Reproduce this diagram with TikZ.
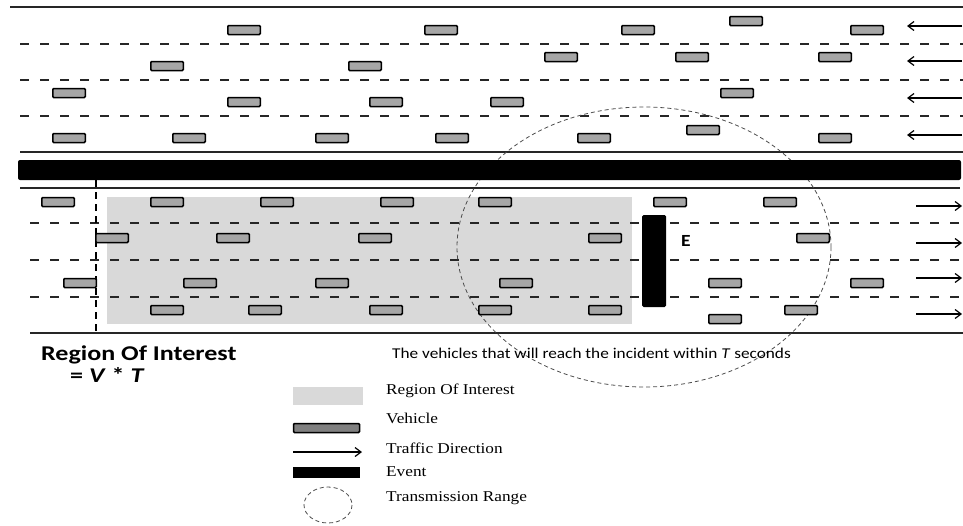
\documentclass[tikz,border=0pt]{standalone}
\usepackage{fontspec}
\setmainfont{Liberation Serif}[FakeStretch=1.15]
\newfontfamily\roifont{Carlito}[FakeStretch=1.15]
\newfontfamily\roibold{Carlito}[FakeStretch=1.24]
\usetikzlibrary{arrows.meta}

\tikzset{
  road/.style={line width=1.4pt, black!85},
  lane/.style={line width=1.4pt, black!85, dash pattern=on 9pt off 11pt},
  vehicle/.style={draw=black, line width=1.5pt, fill=black!35, rounded corners=1pt,
    minimum width=32.5pt, minimum height=9pt, inner sep=0pt},
  flow/.style={line width=1.2pt, -{Straight Barb[length=6pt,width=9pt]}},
  txrange/.style={draw=black!70, line width=0.8pt, dash pattern=on 4pt off 3pt},
  legendtext/.style={anchor=west, inner sep=0pt, font=\fontsize{15}{17}\selectfont}
}

\begin{document}
\begin{tikzpicture}[x=1pt, y=-1pt]

\useasboundingbox (0,0) rectangle (963,525);

% ------------------- Region of interest ------------------- %
\fill[black!15] (107,197) rectangle (632,324);

% ------------------- Upper road (to the left) ------------------- %
\draw[road] (10,7) -- (963,7);
\foreach \y in {44,80,116} {
  \draw[lane] (20,\y) -- (963,\y);
}
\draw[road] (20,152) -- (963,152);

% ------------------- Lower road (to the right) ------------------- %
\draw[road] (20,188) -- (960,188);
\foreach \y in {223,260,297} {
  \draw[lane] (30,\y) -- (963,\y);
}
\draw[road] (30,333) -- (963,333);

% Border of the region of interest
\draw[line width=2pt, dash pattern=on 7pt off 5pt] (96,180) -- (96,333);

% Transmission range of the event
\draw[txrange] (644,247) ellipse [x radius=187, y radius=140];

% Median
\fill[black, rounded corners=2pt] (18,160) rectangle (961,180);

% Vehicles, upper road
\foreach \x/\y [count=\i] in {244/30,441/30,638/30,746/21,867/30,
    167/66,365/66,561/57,692/57,835/57,
    69/93,244/102,386/102,507/102,737/93,
    69/138,189/138,332/138,452/138,594/138,703/130,835/138} {
  \node[vehicle] (up\i) at (\x,\y) {};
}

% Vehicles, lower road
\foreach \x/\y [count=\i] in {58/202,167/202,277/202,397/202,495/202,670/202,780/202,
    112/238,233/238,375/238,605/238,813/238,
    80/283,200/283,332/283,516/283,725/283,867/283,
    167/310,265/310,386/310,495/310,605/310,801/310,725/319} {
  \node[vehicle] (low\i) at (\x,\y) {};
}

% Event blocking the lanes
\node[fill=black, rounded corners=1.5pt, minimum width=24pt, minimum height=92pt,
  inner sep=0pt] (event) at (654,261) {};
\node[font=\roifont\bfseries\fontsize{17}{18}\selectfont, anchor=west, inner sep=0pt]
  (elabel) at (681,241) {E};

% Traffic direction
\foreach \y in {26,61,98,135} {
  \draw[flow] (962,\y) -- (907,\y);
}
\foreach \y in {206,243,278,314} {
  \draw[flow] (916,\y) -- (962,\y);
}

% ------------------- Captions ------------------- %
\node[font=\roibold\bfseries\fontsize{21}{23}\selectfont, anchor=base west, inner sep=0pt]
  (roi) at (41,360) {Region Of Interest};
\node[font=\roibold\bfseries\fontsize{21}{23}\selectfont, anchor=base west, inner sep=0pt]
  (roieq) at (70,382) {= \textit{V} * \textit{T}};
\node[font=\roifont\fontsize{15}{17}\selectfont, anchor=base west, inner sep=0pt]
  (reach) at (392,358) {The vehicles that will reach the incident within \textit{T} seconds};

% ------------------- Legend ------------------- %
\fill[black!15] (293,387) rectangle (363,405);
\node[legendtext] (lroi) at (386,391) {Region Of Interest};

\node[vehicle, fill=black!50, minimum width=66pt, minimum height=9pt] (lveh) at (326.5,428) {};
\node[legendtext] (lveh-t) at (386,418) {Vehicle};

\draw[flow] (293,452) -- (362,452);
\node[legendtext] (ldir) at (386,448) {Traffic Direction};

\fill[black] (293,467) rectangle (360,478);
\node[legendtext] (levent) at (386,472) {Event};

\draw[txrange] (328,505) ellipse [x radius=24, y radius=18];
\node[legendtext] (lrange) at (386,498) {Transmission Range};

\end{tikzpicture}
\end{document}
